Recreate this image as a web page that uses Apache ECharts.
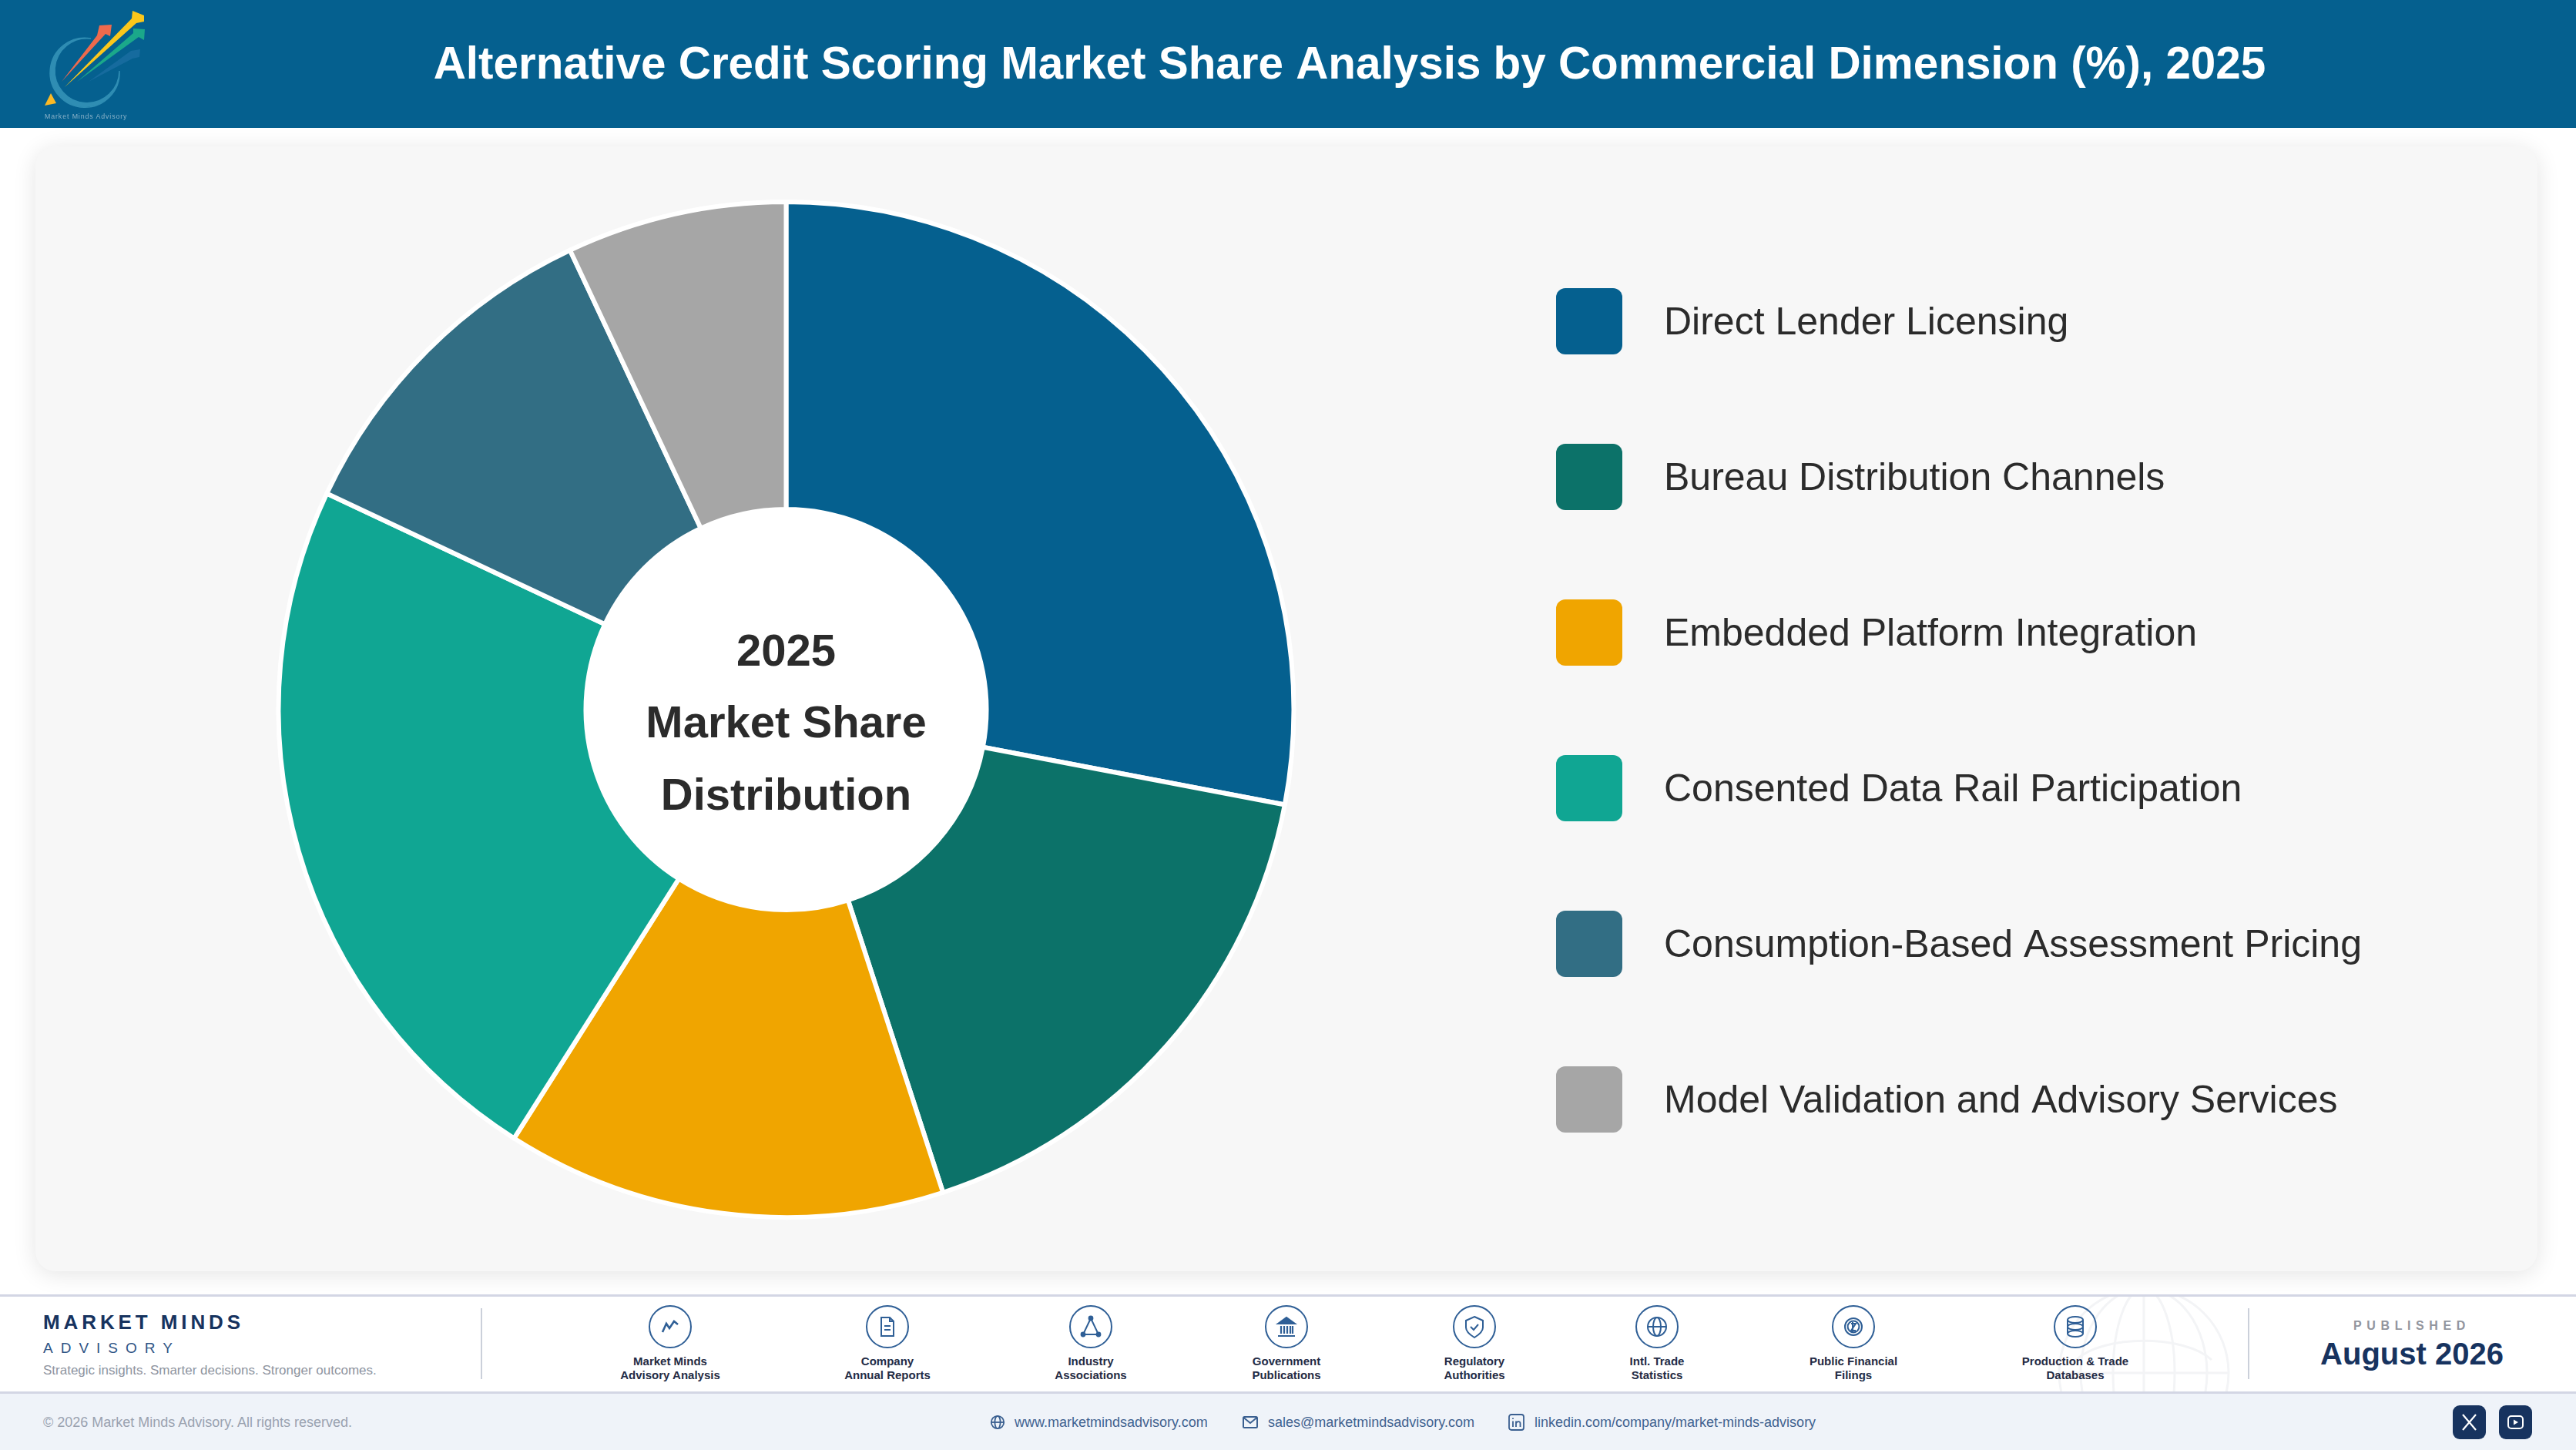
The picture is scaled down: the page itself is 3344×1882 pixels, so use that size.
<!DOCTYPE html>
<html><head><meta charset="utf-8">
<script src="https://cdn.jsdelivr.net/npm/echarts@6/dist/echarts.min.js"></script>
<style>
html,body{margin:0;padding:0;background:#fff;width:3344px;height:1882px;overflow:hidden;font-family:"Liberation Sans",Arial,sans-serif}
#header{position:absolute;left:0;top:0;width:3344px;height:166px;background:#05608F}
#card{position:absolute;left:46px;top:190px;width:3248px;height:1460px;background:#F7F7F7;border-radius:26px;box-shadow:0 4px 30px rgba(0,0,0,.11)}
#chart{position:absolute;left:0;top:0;width:3344px;height:1882px}
#band{position:absolute;left:0;top:1680px;width:3344px;background:#fff;border-top:3px solid #D3D6E4;border-bottom:3px solid #D3D6E4;box-sizing:border-box;height:129px;overflow:hidden}
#strip{position:absolute;left:0;top:1809px;width:3344px;height:73px;background:#EFF3F9}
.t{position:absolute;white-space:nowrap;line-height:1}
.div{position:absolute;top:1698px;width:2px;height:92px;background:#CBD0DA}
.src{position:absolute;top:1694px;width:56px;height:56px;margin-left:-28px}
.lab{position:absolute;top:1758px;width:220px;margin-left:-110px;text-align:center;font-weight:700;font-size:15px;line-height:18px;color:#232B45}
.soc{position:absolute;top:1824px;width:43px;height:44px;border-radius:9px;background:#17335F}
svg{display:block;overflow:visible}
</style></head><body>
<div id="header"></div>
<svg style="position:absolute;left:0;top:0;filter:blur(.5px)" width="200" height="166" viewBox="0 0 200 166">
  <path d="M118 50 A45 45 0 1 0 155 92 A42 42 0 1 1 118 50 Z" fill="#2F8DB3" stroke="#2F8DB3" stroke-width="1.5"/>
  <path d="M80 106 L126 46 L129 33 L145 32 L143 47 L137 44 Z" fill="#EE6A4D"/>
  <path d="M84 113 L171 24 L172 14 L187 20 L187 28 L177 30 Z" fill="#FBC71B"/>
  <path d="M100 106 L173 43 L173 37 L188 38 L187 52 L180 48 Z" fill="#1BA88A"/>
  <path d="M115 106 L170 66 L182 64 L181 74 L172 76 Z" fill="#1C6FA3" opacity=".75"/>
  <path d="M66 121 L58 137 L73 134 Z" fill="#FBB925"/>
  <text x="58" y="154" font-size="8.8" letter-spacing=".9" fill="#8CB3C9" font-family="Liberation Sans">Market Minds Advisory</text>
</svg>
<div id="card"></div>
<div id="band">
<svg style="position:absolute;left:2640px;top:-3px" width="300" height="150" viewBox="2640 1680 300 150" fill="none" stroke="#F3F4F6" stroke-width="3">
  <circle cx="2783" cy="1782" r="110"/>
  <ellipse cx="2783" cy="1782" rx="40" ry="110"/><ellipse cx="2783" cy="1782" rx="82" ry="110"/>
  <path d="M2783 1672V1892M2673 1782H2893"/>
  <path d="M2695 1765C2730 1732 2836 1732 2871 1765"/>
</svg>
</div>
<div id="strip"></div>

<div class="t" style="left:56px;top:1703px;font-size:26px;font-weight:700;letter-spacing:4.9px;color:#17335F">MARKET MINDS</div>
<div class="t" style="left:56px;top:1740px;font-size:19px;letter-spacing:10px;color:#2F5485">ADVISORY</div>
<div class="t" style="left:56px;top:1770px;font-size:17px;color:#8E94A0">Strategic insights. Smarter decisions. Stronger outcomes.</div>
<div class="div" style="left:624px"></div><div class="div" style="left:2918px"></div>
<div id="sources"></div>
<div class="t" style="left:3131px;top:1713px;font-size:16px;font-weight:700;letter-spacing:6.6px;color:#92959E;transform:translateX(-50%)">PUBLISHED</div>
<div class="t" style="left:3131px;top:1737px;font-size:40px;font-weight:700;color:#17335F;transform:translateX(-50%)">August 2026</div>

<div class="t" style="left:56px;top:1837px;font-size:18px;color:#9AA2B0">© 2026 Market Minds Advisory. All rights reserved.</div>
<svg style="position:absolute;left:1285px;top:1836px" width="20" height="20" viewBox="0 0 20 20" fill="none" stroke="#3A5F90" stroke-width="1.8"><circle cx="10" cy="10" r="8.2"/><ellipse cx="10" cy="10" rx="3.6" ry="8.2"/><path d="M2 10H18"/></svg>
<div class="t" style="left:1317px;top:1837px;font-size:18px;color:#3F6290">www.marketmindsadvisory.com</div>
<svg style="position:absolute;left:1613px;top:1836px" width="20" height="20" viewBox="0 0 20 20" fill="none" stroke="#3A5F90" stroke-width="2"><rect x="1" y="3" width="18" height="14" rx="1.5"/><path d="M1.5 4L10 11L18.5 4"/></svg>
<div class="t" style="left:1646px;top:1837px;font-size:18px;color:#3F6290">sales@marketmindsadvisory.com</div>
<svg style="position:absolute;left:1958px;top:1835px" width="21" height="22" viewBox="0 0 21 22" fill="none" stroke="#3A5F90" stroke-width="1.8"><rect x="1" y="1" width="19" height="20" rx="3"/><path d="M6 9.5V17M6 5.6V7M10 17V9.5M10 12.5C11 9.5 15.5 9 15.5 12.5V17"/></svg>
<div class="t" style="left:1992px;top:1837px;font-size:18px;color:#3F6290">linkedin.com/company/market-minds-advisory</div>
<div class="soc" style="left:3184px"><svg width="43" height="44" viewBox="0 0 43 44" fill="none" stroke="#fff" stroke-width="2.2"><path d="M13 12L30 32M30 12L13 32"/></svg></div>
<div class="soc" style="left:3244px"><svg width="43" height="44" viewBox="0 0 43 44" fill="none" stroke="#fff" stroke-width="2"><rect x="12" y="14" width="19" height="16" rx="4"/><path d="M19 18.5L25 22L19 25.5Z" fill="#fff" stroke="none"/></svg></div>

<div id="chart"></div>
<script>
const categories = ["Direct Lender Licensing","Bureau Distribution Channels","Embedded Platform Integration","Consented Data Rail Participation","Consumption-Based Assessment Pricing","Model Validation and Advisory Services"];
const shares = [28,17,14,23,11,7];
const colors = ["#05608F","#0C7269","#F0A500","#10A693","#326E84","#A6A6A6"];
const chartTitle = "Alternative Credit Scoring Market Share Analysis by Commercial Dimension (%), 2025";
const centerLines = ["2025","Market Share","Distribution"];
const sourceLabels = [["Market Minds","Advisory Analysis"],["Company","Annual Reports"],["Industry","Associations"],["Government","Publications"],["Regulatory","Authorities"],["Intl. Trade","Statistics"],["Public Financial","Filings"],["Production & Trade","Databases"]];
const sourceX = [870,1152,1416,1670,1914,2151,2406,2694];
const glyphs = [
 '<path d="M18 35L23 24L27 30L33 21L38 25" stroke-width="2.6"/>',
 '<path d="M20 16H31L36 21V40H20Z M31 16V21H36 M24 27H32 M24 32H32"/>',
 '<path d="M28 17L18 38H38Z"/><circle cx="28" cy="17" r="2.4" fill="#2F5F96"/><circle cx="18" cy="38" r="2.4" fill="#2F5F96"/><circle cx="38" cy="38" r="2.4" fill="#2F5F96"/>',
 '<path d="M17 24L28 16L39 24Z" fill="#2F5F96"/><path d="M21 27V37M25 27V37M29 27V37M33 27V37M36 27V37M17 40H39" stroke-width="2.2"/>',
 '<path d="M28 15L39 20V29C39 35 33 39 28 42C23 39 17 35 17 29V20Z"/><path d="M23 28L27 32L33 25"/>',
 '<circle cx="28" cy="28" r="12"/><ellipse cx="28" cy="28" rx="5" ry="12"/><path d="M16 28H40"/>',
 '<circle cx="28" cy="28" r="11"/><circle cx="28" cy="28" r="7.4"/><path d="M25 24H31L25 33H31M27 22V35"/>',
 '<ellipse cx="28" cy="19" rx="10" ry="4"/><ellipse cx="28" cy="28" rx="10" ry="4"/><ellipse cx="28" cy="37" rx="10" ry="4"/><path d="M18 19V37M38 19V37"/>'
];
let html='';
sourceLabels.forEach((l,i)=>{
 html+=`<svg class="src" style="left:${sourceX[i]}px" viewBox="0 0 56 56" fill="none" stroke="#2F5F96" stroke-width="2"><circle cx="28" cy="28" r="27" stroke-width="2"/>${glyphs[i]}</svg>`;
 html+=`<div class="lab" style="left:${sourceX[i]}px">${l[0].replace('&','&amp;')}<br>${l[1]}</div>`;
});
document.getElementById('sources').innerHTML=html;

const chart = echarts.init(document.getElementById('chart'),null,{renderer:'canvas',width:3344,height:1882});
const FONT = '"Liberation Sans",Arial,sans-serif';
chart.setOption({
 animation:false,
 backgroundColor:'transparent',
 title:[
  {text:chartTitle,left:1752,top:57,padding:0,textAlign:'center',textStyle:{color:'#fff',fontFamily:FONT,fontWeight:'bold',fontSize:58.4}},
  {text:centerLines.join('\n'),left:1020.5,top:801,padding:0,textAlign:'center',textStyle:{color:'#2B2B2B',fontFamily:FONT,fontWeight:'bold',fontSize:58,lineHeight:93.5}}
 ],
 graphic:[{type:'circle',z:0,silent:true,shape:{cx:1020.5,cy:921,r:264},style:{fill:'#fff'}}],
 legend:{
  orient:'vertical',left:2020,top:374,padding:0,itemWidth:86,itemHeight:86,itemGap:116,selectedMode:false,
  icon:'path://M12 0H74A12 12 0 0 1 86 12V74A12 12 0 0 1 74 86H12A12 12 0 0 1 0 74V12A12 12 0 0 1 12 0Z',
  data:categories,
  itemStyle:{borderWidth:0},
  formatter:name=>`{a|${name}}`,
  textStyle:{color:'#2B2B2B',fontFamily:FONT,fontSize:50,
   rich:{a:{color:'#2B2B2B',fontFamily:FONT,fontSize:50,padding:[6,0,0,49]}}}
 },
 series:[{
  type:'pie',center:[1020.5,921],radius:[260,659],startAngle:90,clockwise:true,silent:true,
  label:{show:false},labelLine:{show:false},
  itemStyle:{borderColor:'#fff',borderWidth:6},
  data:categories.map((n,i)=>({name:n,value:shares[i],itemStyle:{color:colors[i]}}))
 }]
});
</script>
</body></html>
